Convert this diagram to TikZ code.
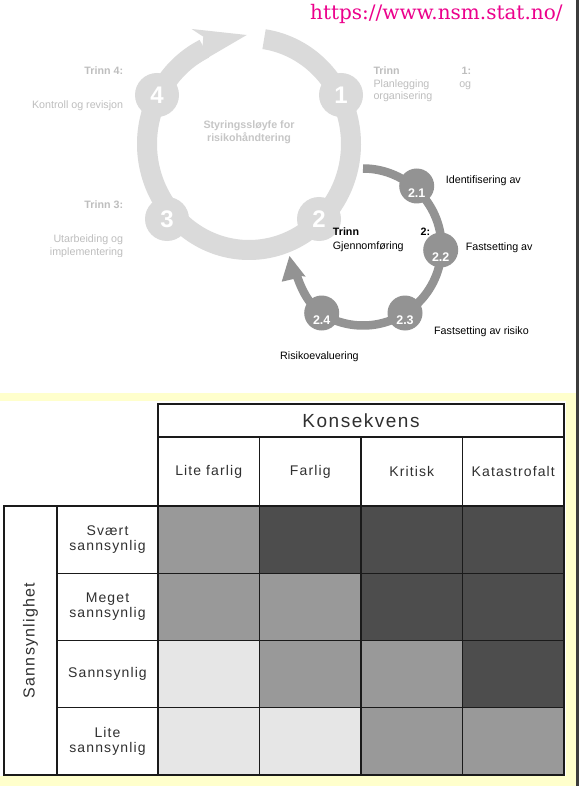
\documentclass[tikz,border=0pt]{standalone}
\usepackage{fontspec}
\setmainfont{Liberation Sans}
\newfontfamily\urlfont{DejaVu Serif}
\newfontfamily\tabfont[LetterSpace=8]{Liberation Sans}
\usetikzlibrary{calc}
\definecolor{ringA}{HTML}{DADADA}
\definecolor{ringB}{HTML}{939393}
\definecolor{lbl}{HTML}{BEBEBE}
\definecolor{ctrc}{HTML}{C6C6C6}
\definecolor{ylw}{HTML}{FFFFCC}
\definecolor{barc}{HTML}{3C3C3C}
\definecolor{cL}{HTML}{E6E6E6}
\definecolor{cM}{HTML}{999999}
\definecolor{cD}{HTML}{4D4D4D}
\definecolor{tline}{HTML}{1A1A1A}
\definecolor{ttext}{HTML}{303030}
\begin{document}
\begin{tikzpicture}[x=1pt,y=-1pt,
  bignode/.style={circle, fill=ringA, minimum size=44pt, inner sep=0pt, text=white, font=\fontsize{24}{24}\selectfont\bfseries},
  smallnode/.style={circle, fill=ringB, minimum size=35pt, inner sep=0pt},
  smallnum/.style={text=white, font=\fontsize{12.5}{12.5}\selectfont\bfseries, inner sep=0pt},
  glabel/.style={text=lbl, font=\fontsize{10.7}{12.5}\selectfont, inner sep=0pt},
  gbold/.style={text=lbl, font=\fontsize{10.7}{12.5}\selectfont\bfseries, inner sep=0pt},
  blabel/.style={text=black, font=\fontsize{10.7}{12.5}\selectfont, inner sep=0pt},
  cellbox/.style={draw=tline, line width=1.2pt, inner sep=0pt, outer sep=0pt, text=ttext, align=center, font=\tabfont\fontsize{14}{15}\selectfont},
]
% background
\fill[white] (0,0) rectangle (579,786);
\useasboundingbox (0,0) rectangle (579,786);
\fill[ylw] (0,393) rectangle (576,786);
\fill[white] (0,401) rectangle (566,776);
\fill[barc] (576,0) rectangle (579,786);

% URL
\node[anchor=base west, inner sep=0pt, text=magenta, font=\urlfont\fontsize{20}{20}\selectfont] (url) at (310,19.3) {https://www.nsm.stat.no/};

% big ring
\draw[ringA, line width=20pt, line join=round] plot[domain=-244:81.5, samples=220, variable=\t] ({249+102*cos(\t)},{144-106*sin(\t)});
\fill[ringA] (191.7,29) -- (246.7,35) -- (198.3,63.3) -- (201.7,56.7) -- (203.3,36.7) -- cycle;

\node[bignode] (n1) at (341,95) {1};
\node[bignode] (n2) at (319,219) {2};
\node[bignode] (n3) at (167,219) {3};
\node[bignode] (n4) at (157,95) {4};

% small ring
\draw[ringB, line width=8.5pt, line join=round] plot[domain=-120:90, samples=160, variable=\t] ({363+78.5*cos(\t)},{247-78.5*sin(\t)});
\draw[ringB, line width=8.5pt] (323.75,315) .. controls (306.7,304.3) and (300,284.4) .. (296.5,275);
\fill[ringB] (289.5,256) -- (305.7,276.7) -- (301.5,276) -- (293.5,279) -- (281.7,281.7) -- cycle;

\node[smallnode] (n21) at (416.7,186) {};
\node[smallnode] (n22) at (440.7,250) {};
\node[smallnode] (n23) at (405,313) {};
\node[smallnode] (n24) at (321.7,313) {};
\node[smallnum] (n21t) at (416.7,193.5) {2.1};
\node[smallnum] (n22t) at (440.7,257) {2.2};
\node[smallnum] (n23t) at (405,320) {2.3};
\node[smallnum] (n24t) at (321.7,320) {2.4};

% big ring labels
\node[gbold, anchor=base east] (t4a) at (123.3,75) {Trinn 4:};
\node[glabel, anchor=base east] (t4b) at (123.3,109) {Kontroll og revisjon};
\node[gbold, anchor=base east] (t3a) at (123.3,209) {Trinn 3:};
\node[glabel, anchor=base east] (t3b) at (123.3,243) {Utarbeiding og};
\begin{scope}
\clip (0,245) rectangle (300,256.4);
\node[glabel, anchor=base east] (t3c) at (123.3,255) {implementering};
\end{scope}
\node[glabel, anchor=base west, text width=97.7pt, align=left] (t1) at (373.3,75) {\textbf{Trinn}\hfill\textbf{1:}\\Planlegging\hfill og\\organisering};
\node[text=ctrc, font=\fontsize{10.7}{13.3}\selectfont\bfseries, inner sep=0pt, anchor=base, align=center] (ctr) at (249,141.7) {Styringssløyfe for\\risikohåndtering};

% small ring labels
\node[blabel, anchor=base west, text width=97.3pt, align=left, font=\fontsize{10.7}{13.3}\selectfont] (t2) at (332.7,236) {\textbf{Trinn}\hfill\textbf{2:}\\Gjennomføring};
\node[blabel, anchor=base west] (l21) at (445.7,183.3) {Identifisering av};
\node[blabel, anchor=base west] (l22) at (465.7,250.7) {Fastsetting av};
\node[blabel, anchor=base west] (l23) at (434,334.3) {Fastsetting av risiko};
\node[blabel, anchor=base west] (l24) at (280,359) {Risikoevaluering};

% table
\node[cellbox, minimum width=406pt, minimum height=33pt, font=\tabfont\fontsize{19}{19}\selectfont] (kons) at (361,420.5) {Konsekvens};
\foreach \txt [count=\j] in {Lite farlig, Farlig, Kritisk, Katastrofalt} {
  \node[cellbox, minimum width=101.5pt, minimum height=69pt] (h\j) at ({158+101.5*(\j-0.5)},471.5) {\txt};
}
\foreach \txt [count=\i] in {{Svært\\sannsynlig}, {Meget\\sannsynlig}, {Sannsynlig}, {Lite\\sannsynlig}} {
  \node[cellbox, minimum width=101pt, minimum height=67.25pt] (r\i) at (107.5,{506+67.25*(\i-0.5)}) {\txt};
}
\node[cellbox, minimum width=53pt, minimum height=269pt] (sbox) at (30.5,640.5) {};
\node[text=ttext, rotate=90, inner sep=0pt, font=\tabfont\fontsize{16}{16}\selectfont] (stxt) at (sbox.center) {Sannsynlighet};
\foreach \row/\cols in {1/{cM,cD,cD,cD}, 2/{cM,cM,cD,cD}, 3/{cL,cM,cM,cD}, 4/{cL,cL,cM,cM}} {
  \foreach \c [count=\j] in \cols {
    \node[cellbox, fill=\c, minimum width=101.5pt, minimum height=67.25pt] (c\row\j) at ({158+101.5*(\j-0.5)},{506+67.25*(\row-0.5)}) {};
  }
}
\end{tikzpicture}
\end{document}
